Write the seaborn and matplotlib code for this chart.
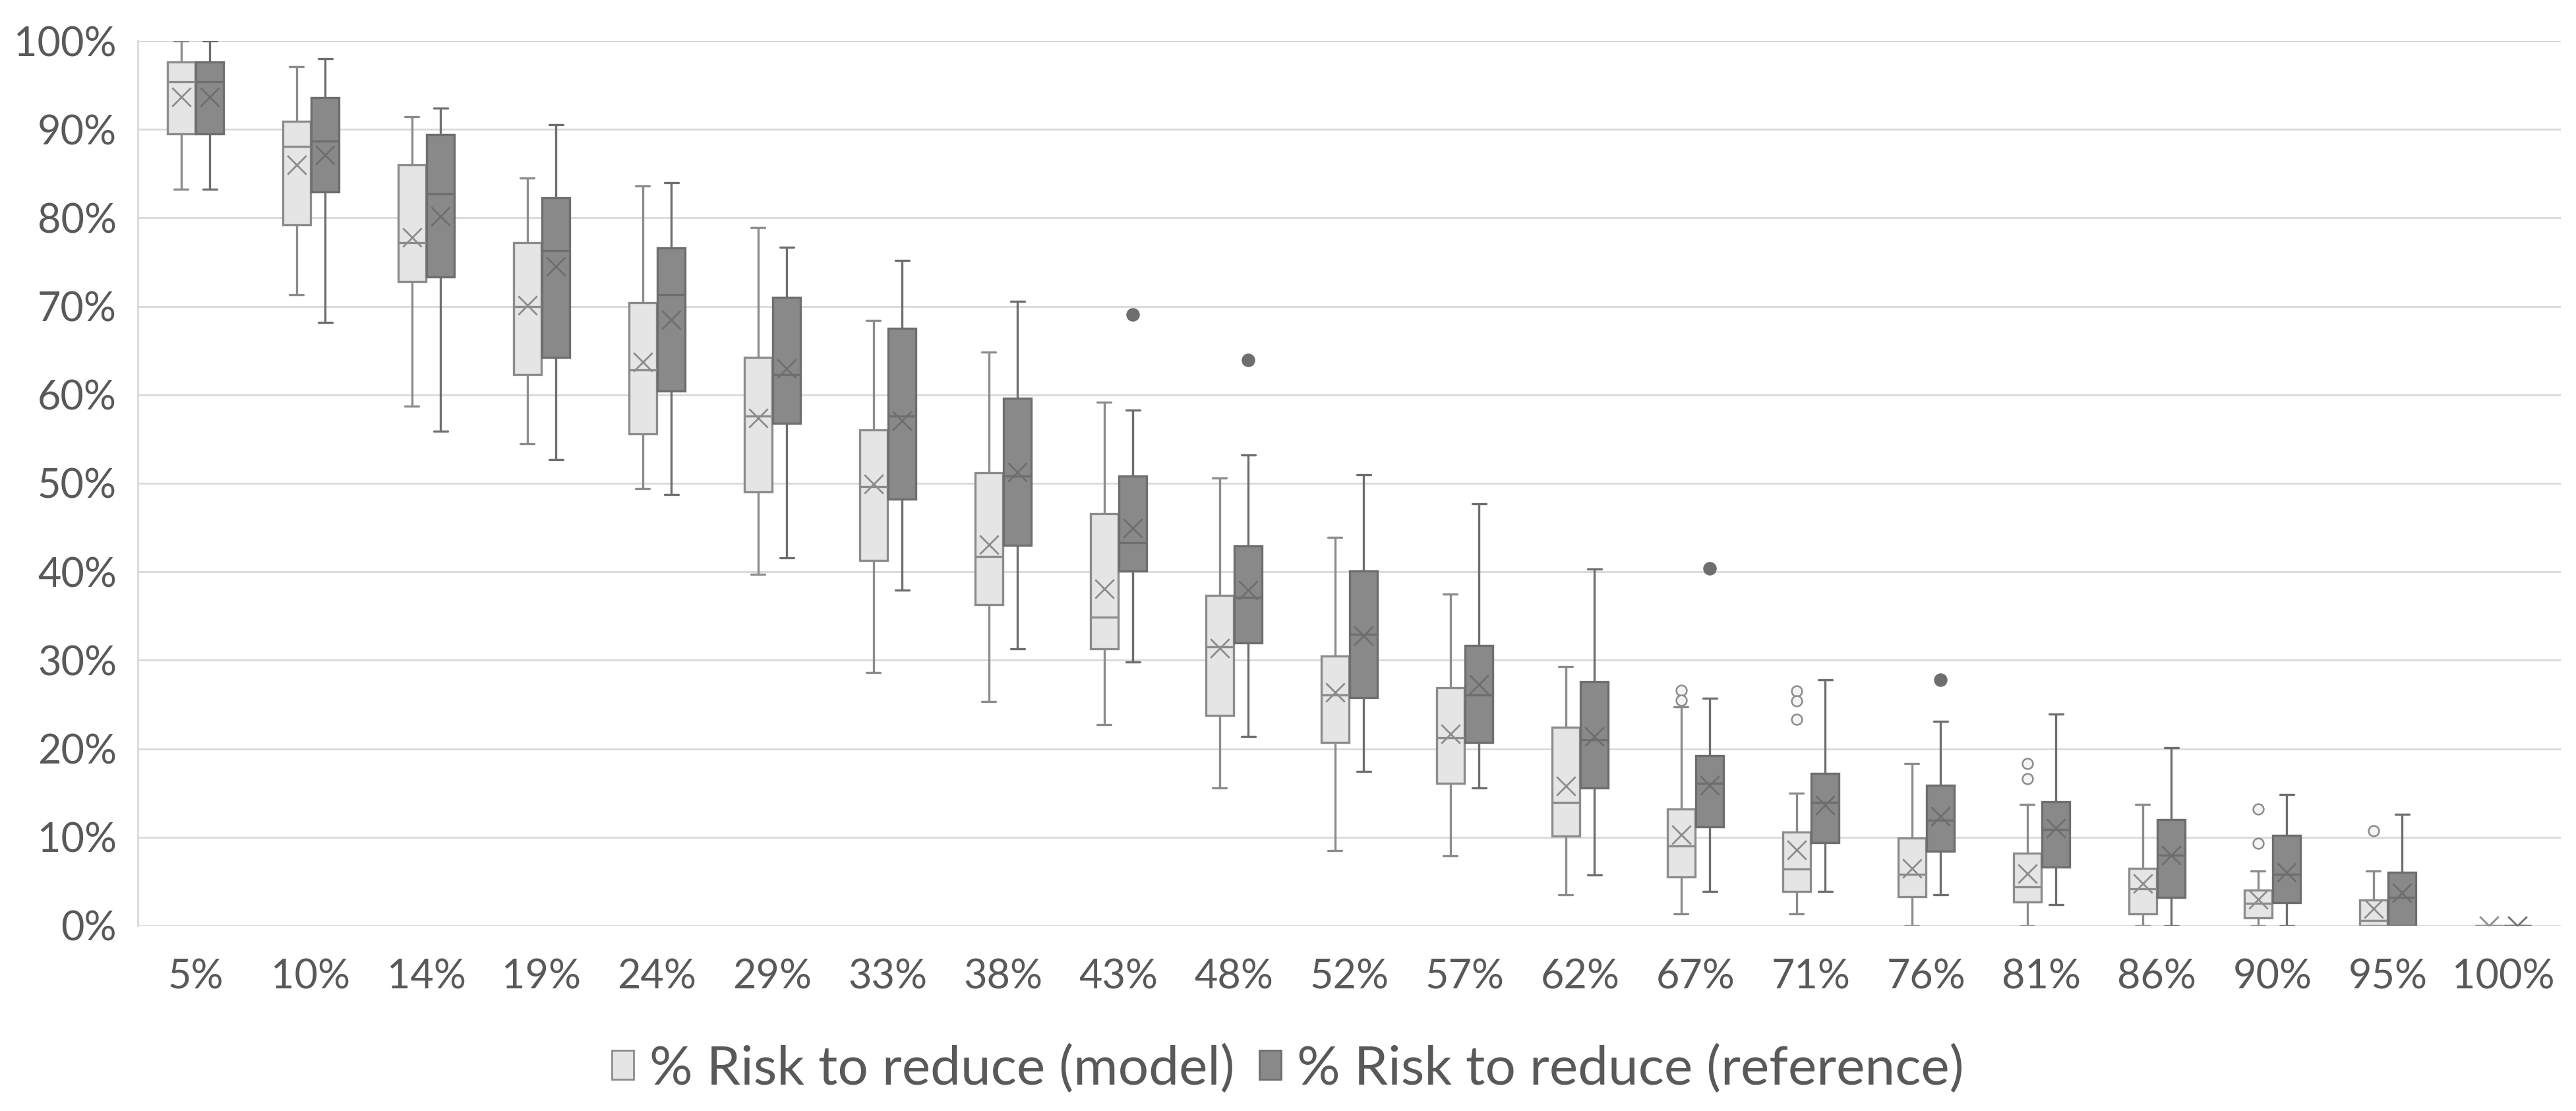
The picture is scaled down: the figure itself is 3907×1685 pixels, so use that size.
import numpy as np
import pandas as pd
import seaborn as sns
import matplotlib.pyplot as plt
from matplotlib.patches import Patch
from matplotlib.ticker import FuncFormatter

categories = ["5%", "10%", "14%", "19%", "24%", "29%", "33%", "38%", "43%", "48%", "52%",
              "57%", "62%", "67%", "71%", "76%", "81%", "86%", "90%", "95%", "100%"]

# box summaries, in percent
model_low = [83.2, 71.3, 58.7, 54.5, 49.4, 39.7, 28.6, 25.3, 22.7, 15.6, 8.5,
             7.9, 3.5, 1.3, 1.3, 0.0, 0.0, 0.0, 0.0, 0.0, 0.0]
model_q1 = [89.5, 79.2, 72.8, 62.3, 55.6, 49.0, 41.3, 36.3, 31.3, 23.8, 20.7,
            16.1, 10.1, 5.5, 3.9, 3.3, 2.7, 1.3, 0.9, 0.0, 0.0]
model_med = [95.4, 88.1, 77.2, 70.0, 62.8, 57.6, 49.6, 41.7, 34.9, 31.5, 26.1,
             21.2, 13.9, 9.0, 6.4, 5.8, 4.4, 4.2, 2.5, 0.6, 0.0]
model_q3 = [97.6, 90.9, 86.0, 77.2, 70.4, 64.2, 56.0, 51.2, 46.6, 37.3, 30.5,
            26.9, 22.4, 13.2, 10.6, 9.9, 8.2, 6.5, 4.0, 2.9, 0.0]
model_high = [100.0, 97.1, 91.4, 84.5, 83.6, 78.9, 68.4, 64.8, 59.2, 50.6, 43.9,
              37.5, 29.3, 24.7, 15.0, 18.3, 13.7, 13.7, 6.2, 6.2, 0.0]
model_mean = [93.7, 86.0, 77.8, 70.1, 63.7, 57.4, 49.9, 43.1, 38.1, 31.4, 26.4,
              21.7, 15.8, 10.3, 8.6, 6.5, 5.9, 4.8, 3.0, 1.9, 0.0]

ref_low = [83.2, 68.2, 55.9, 52.7, 48.7, 41.6, 37.9, 31.3, 29.8, 21.4, 17.4,
           15.6, 5.7, 3.9, 3.9, 3.5, 2.4, 0.0, 0.0, 0.0, 0.0]
ref_q1 = [89.5, 82.9, 73.3, 64.2, 60.4, 56.8, 48.2, 43.0, 40.1, 32.0, 25.8,
          20.7, 15.6, 11.2, 9.4, 8.4, 6.6, 3.2, 2.6, 0.0, 0.0]
ref_med = [95.4, 88.7, 82.7, 76.3, 71.3, 62.3, 57.6, 50.8, 43.3, 37.1, 32.9,
           26.1, 21.0, 16.1, 13.9, 11.9, 10.9, 8.0, 5.8, 3.2, 0.0]
ref_q3 = [97.6, 93.6, 89.4, 82.3, 76.6, 71.0, 67.5, 59.6, 50.8, 42.9, 40.1,
          31.7, 27.6, 19.2, 17.2, 15.9, 14.0, 12.0, 10.2, 6.0, 0.0]
ref_high = [100.0, 98.0, 92.4, 90.5, 84.0, 76.7, 75.2, 70.6, 58.3, 53.2, 51.0,
            47.7, 40.3, 25.7, 27.8, 23.1, 23.9, 20.1, 14.8, 12.6, 0.0]
ref_mean = [93.7, 87.1, 80.2, 74.5, 68.5, 63.0, 57.1, 51.3, 44.9, 37.9, 32.8,
            27.3, 21.4, 15.9, 13.6, 12.4, 11.0, 8.0, 6.0, 3.7, 0.0]

model_outlier_cat = ["67%", "67%", "71%", "71%", "71%", "81%", "81%", "90%", "90%", "95%"]
model_outlier_val = [26.6, 25.5, 26.5, 25.4, 23.3, 18.3, 16.6, 13.2, 9.3, 10.7]
ref_outlier_cat = ["43%", "48%", "67%", "76%"]
ref_outlier_val = [69.1, 63.9, 40.4, 27.8]

series_names = ["% Risk to reduce (model)", "% Risk to reduce (reference)"]

fill = {series_names[0]: "#E5E5E5", series_names[1]: "#898989"}
edge = {series_names[0]: "#8C8C8C", series_names[1]: "#6E6E6E"}

sns.set_theme(style="white")
plt.rcParams['font.family'] = ['Lato', 'DejaVu Sans']

# long table: one row per summary value, so the box quartiles land on q1/median/q3
rows = []
for name, stats in [(series_names[0], [model_low, model_q1, model_med, model_q3, model_high]),
                    (series_names[1], [ref_low, ref_q1, ref_med, ref_q3, ref_high])]:
    for i, cat in enumerate(categories):
        for s in stats:
            rows.append({"bucket": cat, "series": name, "value": s[i]})
df = pd.DataFrame(rows)

fig = plt.figure(figsize=(39.07, 16.85), dpi=100)
ax = fig.add_axes([0.0535, 0.1668, 0.9406, 0.7964])

for name in series_names:
    sns.boxplot(data=df[df["series"] == name], x="bucket", y="value", hue="series",
                order=categories, hue_order=series_names, palette=fill, dodge=True,
                width=0.5, gap=0.04, whis=np.inf, linewidth=2.4,
                linecolor=edge[name], legend=False, ax=ax)

offset = {series_names[0]: -0.125, series_names[1]: 0.125}
pos = {c: i for i, c in enumerate(categories)}

# means as x markers
for name, means in [(series_names[0], model_mean), (series_names[1], ref_mean)]:
    xs = [i + offset[name] for i in range(len(categories))]
    sns.scatterplot(x=xs, y=means, marker="x", s=420, color=edge[name],
                    linewidth=2.0, ax=ax, legend=False, zorder=5)

# outliers
sns.scatterplot(x=[pos[c] + offset[series_names[0]] for c in model_outlier_cat],
                y=model_outlier_val, marker="o", s=130, facecolor="#F4F4F4",
                edgecolor="#8C8C8C", linewidth=1.8, ax=ax, legend=False, zorder=5)
sns.scatterplot(x=[pos[c] + offset[series_names[1]] for c in ref_outlier_cat],
                y=ref_outlier_val, marker="o", s=190, color="#6E6E6E",
                edgecolor="#6E6E6E", linewidth=1.0, ax=ax, legend=False, zorder=5)

ax.set_ylim(0, 100)
ax.set_xlim(-0.5, len(categories) - 0.5)
ax.set_yticks(np.arange(0, 101, 10))
ax.yaxis.set_major_formatter(FuncFormatter(lambda v, p: f"{v:.0f}%"))
ax.set_xticks(range(len(categories)))
ax.set_xticklabels(categories)
ax.set_xlabel("")
ax.set_ylabel("")
ax.yaxis.grid(True, color="#D9D9D9", linewidth=2.0)
ax.xaxis.grid(False)
ax.set_axisbelow(True)
for side in ["top", "right", "bottom"]:
    ax.spines[side].set_visible(False)
ax.spines["left"].set_color("#D9D9D9")
ax.spines["left"].set_linewidth(2.0)
ax.tick_params(axis="x", length=0, pad=36, labelsize=44, labelcolor="#595959")
ax.tick_params(axis="y", length=0, pad=23, labelsize=44, labelcolor="#595959")

handles = [Patch(facecolor=fill[n], edgecolor=edge[n], linewidth=2.0, label=n) for n in series_names]
fig.legend(handles=handles, loc="center", bbox_to_anchor=(0.5, 0.038), ncol=2,
           frameon=False, fontsize=59, labelcolor="#595959",
           handlelength=0.4, handleheight=0.45, handletextpad=0.3, columnspacing=0.45)

fig.savefig("out.png", dpi=100)
